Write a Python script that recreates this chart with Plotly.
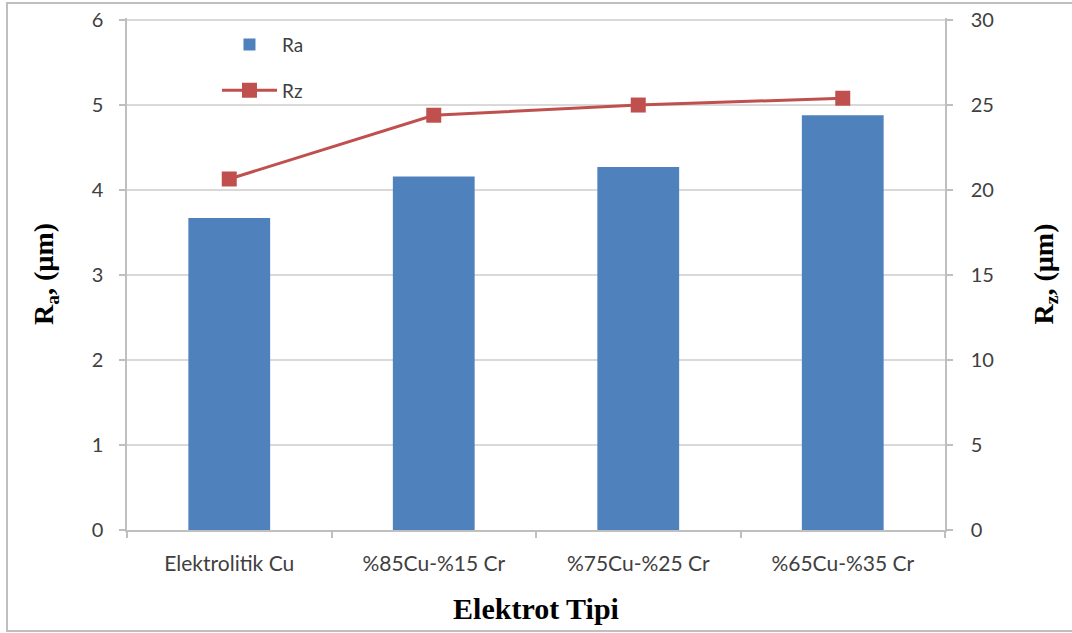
import plotly.graph_objects as go

categories = ["Elektrolitik Cu", "%85Cu-%15 Cr", "%75Cu-%25 Cr", "%65Cu-%35 Cr"]
ra_values = [3.67, 4.16, 4.27, 4.88]
rz_values = [20.65, 24.4, 25.0, 25.4]
left_ticks = [0, 1, 2, 3, 4, 5, 6]
right_ticks = [0, 5, 10, 15, 20, 25, 30]

W, H = 1072, 633
L, R, T, B = 127, 127, 18, 103
pw, ph = W - L - R, H - T - B

fig = go.Figure()
fig.add_trace(go.Bar(
    x=categories, y=ra_values, name="Ra", legendgroup="ra",
    marker=dict(color="#4F81BD", line=dict(width=0)),
    width=0.4, yaxis="y",
))
fig.add_trace(go.Scatter(
    x=categories, y=rz_values, name="Rz", mode="lines+markers", legendgroup="rz",
    line=dict(color="#C0504D", width=3),
    marker=dict(symbol="square", size=15, color="#C0504D"),
    yaxis="y2",
))

tick_font = dict(family="Lato, Open Sans, sans-serif", size=20, color="#404040")
title_font = dict(family="Liberation Serif, Times New Roman, serif", size=28, color="#000000")
axis_common = dict(
    showline=True, linecolor="#BFBFBF", linewidth=1.5,
    ticks="outside", ticklen=6, tickcolor="#BFBFBF", tickwidth=1.5,
    automargin=False,
)

# tiny headroom so the grid line at the top tick is drawn
eps = 1.004
fig.update_layout(
    width=W, height=H,
    margin=dict(l=L, r=R, t=T, b=B, pad=0),
    paper_bgcolor="white", plot_bgcolor="white",
    showlegend=True,
    legend=dict(
        x=0.11, y=0.985, xanchor="left", yanchor="top",
        bgcolor="rgba(0,0,0,0)", font=dict(family="Lato, sans-serif", size=19, color="#404040"),
        tracegroupgap=18, itemwidth=55,
    ),
    bargap=0.6,
    xaxis=dict(
        type="category", tickson="boundaries", **axis_common,
        ticklabelstandoff=14,
        tickfont=dict(family="Lato, sans-serif", size=21, color="#404040"),
        title=dict(text="<b>Elektrot Tipi</b>", font=dict(title_font, size=30), standoff=24),
        showgrid=False,
    ),
    yaxis=dict(
        range=[0, left_ticks[-1] * eps], tickvals=left_ticks, **axis_common,
        ticklabelstandoff=12,
        tickfont=tick_font,
        showgrid=True, gridcolor="#D9D9D9", gridwidth=1.5,
        zeroline=False,
        title=dict(text="<b>R<sub>a</sub>, (µm)</b>", font=title_font, standoff=30),
    ),
    yaxis2=dict(
        range=[0, right_ticks[-1] * eps], tickvals=right_ticks, overlaying="y", side="right", **axis_common,
        ticklabelstandoff=14,
        tickfont=tick_font,
        showgrid=False, zeroline=False,
        title=dict(text="<b>R<sub>z</sub>, (µm)</b>", font=title_font, standoff=40),
    ),
)

# outer chart-area border (as in the source image)
x0 = (7 - L) / pw
x1 = (W + 5 - L) / pw
y1 = (H - B - 3) / ph
y0 = (H - B - 631) / ph
fig.add_shape(type="rect", xref="paper", yref="paper", x0=x0, x1=x1, y0=y0, y1=y1,
              line=dict(color="#BFBFBF", width=2), fillcolor="rgba(0,0,0,0)", layer="below")

fig.write_html("out.html", config={"displayModeBar": False},
               post_script="document.body.style.margin='0';")
